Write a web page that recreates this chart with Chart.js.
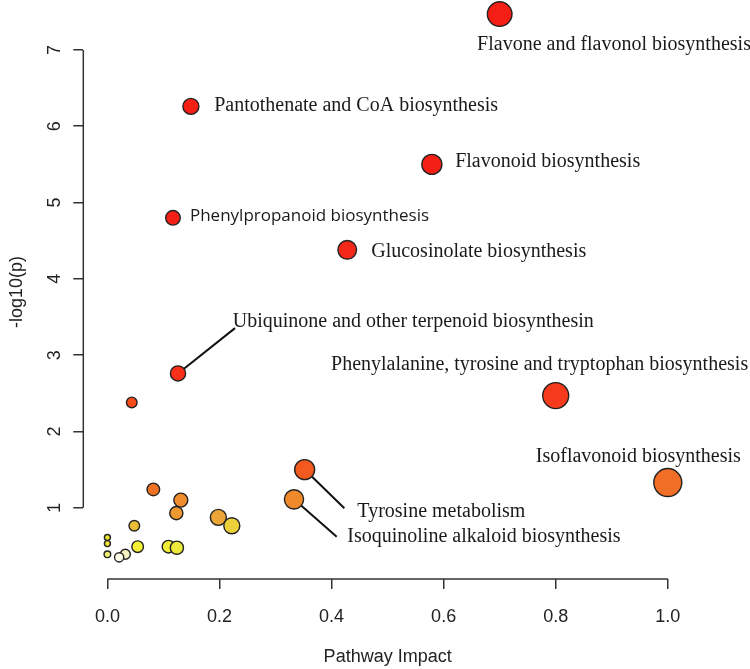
<!DOCTYPE html>
<html lang="en">
<head>
    <meta charset="UTF-8">
    <title>Pathway Impact</title>
    <script src="https://cdn.jsdelivr.net/npm/chart.js"></script>
    <style>
        body { margin: 0; background: #fff; }
        #wrap { width: 750px; height: 669px; }
    </style>
</head>
<body>
    <div id="wrap"><canvas id="pathwayChart" width="750" height="669"></canvas></div>

    <script>
        // data, sorted by -log10(p)
        const pathways = [
            'Flavone and flavonol biosynthesis', 'Pantothenate and CoA biosynthesis', 'Flavonoid biosynthesis',
            'Phenylpropanoid biosynthesis', 'Glucosinolate biosynthesis', 'Ubiquinone and other terpenoid biosynthesin',
            'Phenylalanine, tyrosine and tryptophan biosynthesis', '', 'Tyrosine metabolism', 'Isoflavonoid biosynthesis',
            '', 'Isoquinoline alkaloid biosynthesis', '', '', '', '', '', '', '', '', '', '', '', '', ''
        ];
        const impact = [0.70, 0.149, 0.579, 0.117, 0.428, 0.126, 0.80, 0.0435, 0.352, 1.0,
                        0.082, 0.333, 0.131, 0.123, 0.198, 0.222, 0.048, 0.0, 0.0, 0.054,
                        0.109, 0.124, 0.0, 0.032, 0.021];
        const logP = [7.47, 6.26, 5.50, 4.80, 4.38, 2.76, 2.47, 2.38, 1.50, 1.33,
                      1.24, 1.11, 1.10, 0.93, 0.874, 0.764, 0.764, 0.61, 0.53, 0.49,
                      0.49, 0.476, 0.39, 0.39, 0.35];
        const bubbleSize = [13, 8.7, 10.7, 8, 10, 8.3, 13.7, 6, 10.7, 14.7,
                            7, 10.3, 7.7, 7.3, 8.7, 8.7, 6, 3.7, 3.7, 6.5,
                            7, 7.3, 4, 5.7, 5.3];
        const xTicks = [0, 0.2, 0.4, 0.6, 0.8, 1.0];
        const yTicks = [1, 2, 3, 4, 5, 6, 7];

        // fill colours (heat scale, red = small p)
        const fills = ['#f41e14', '#f52015', '#f52015', '#f52015', '#f42818', '#f7301a', '#f63a1c', '#f54a1a', '#f25a20', '#f06e25',
                       '#ee7022', '#ef8a2c', '#ee8c2e', '#ee9832', '#eba637', '#ecd13a', '#ebbd35', '#f0e432', '#f0e436', '#f4f038',
                       '#f2ee38', '#eeea3c', '#f2f070', '#f5f3c0', '#fafae6'];

        // label placement relative to the point (px): dx, dy, font, leader end
        const labelStyle = {
            0: { dx: -22.6, dy: 31 },
            1: { dx: 23.3, dy: -1 },
            2: { dx: 23.3, dy: -2.3 },
            3: { dx: 17, dy: -2, sans: true },
            4: { dx: 24, dy: 1.7 },
            5: { dx: 54.7, dy: -51.6, lead: [57, -45.3] },
            6: { dx: -224.7, dy: -30.7 },
            8: { dx: 52.7, dy: 42.4, lead: [39.7, 38.7] },
            9: { dx: -132, dy: -26.3 },
            11: { dx: 53.3, dy: 37.7, lead: [42.7, 37.4] }
        };

        const points = impact.map((x, i) => ({ x: x, y: logP[i], r: bubbleSize[i] - 0.7 }));

        function pointPixel(chart, i) {
            return [chart.scales.x.getPixelForValue(impact[i]), chart.scales.y.getPixelForValue(logP[i])];
        }

        const annotate = {
            id: 'annotate',
            beforeDatasetsDraw(chart) {
                const ctx = chart.ctx;
                const xs = chart.scales.x, ys = chart.scales.y;
                ctx.save();
                ctx.strokeStyle = '#333';
                ctx.lineWidth = 1.5;
                // R style axis lines, first to last tick
                ctx.beginPath();
                ctx.moveTo(xs.getPixelForValue(xTicks[0]), chart.chartArea.bottom);
                ctx.lineTo(xs.getPixelForValue(xTicks[xTicks.length - 1]), chart.chartArea.bottom);
                ctx.moveTo(chart.chartArea.left, ys.getPixelForValue(yTicks[0]));
                ctx.lineTo(chart.chartArea.left, ys.getPixelForValue(yTicks[yTicks.length - 1]));
                ctx.stroke();
                // leader lines
                ctx.strokeStyle = '#111';
                ctx.lineWidth = 2;
                Object.keys(labelStyle).forEach(k => {
                    const s = labelStyle[k];
                    if (!s.lead) return;
                    const [px, py] = pointPixel(chart, +k);
                    ctx.beginPath();
                    ctx.moveTo(px, py);
                    ctx.lineTo(px + s.lead[0], py + s.lead[1]);
                    ctx.stroke();
                });
                ctx.restore();
            },
            afterDatasetsDraw(chart) {
                const ctx = chart.ctx;
                ctx.save();
                ctx.fillStyle = '#1a1a1a';
                ctx.textBaseline = 'middle';
                ctx.textAlign = 'left';
                Object.keys(labelStyle).forEach(k => {
                    const s = labelStyle[k];
                    const [px, py] = pointPixel(chart, +k);
                    ctx.font = s.sans ? '17px "Open Sans"' : '20px "Liberation Serif"';
                    ctx.fillText(pathways[k], px + s.dx, py + s.dy);
                });
                ctx.restore();
            }
        };

        const axisFont = { family: '"Liberation Sans", Arial, sans-serif', size: 18 };

        new Chart(document.getElementById('pathwayChart'), {
            type: 'bubble',
            data: {
                datasets: [{
                    data: points,
                    backgroundColor: fills,
                    borderColor: '#222',
                    borderWidth: 1.4,
                    clip: false
                }]
            },
            options: {
                responsive: false,
                animation: false,
                devicePixelRatio: 1,
                layout: { autoPadding: false, padding: { top: 5, right: 58, left: 0, bottom: 0 } },
                plugins: { legend: { display: false }, tooltip: { enabled: false } },
                scales: {
                    x: {
                        type: 'linear',
                        min: -0.043,
                        max: 1.0432,
                        afterBuildTicks: s => { s.ticks = xTicks.map(v => ({ value: v })); },
                        afterFit: s => { s.height = 90; },
                        border: { display: false },
                        grid: { drawOnChartArea: false, drawTicks: true, tickLength: 10, color: '#333', lineWidth: 1.5 },
                        ticks: {
                            color: '#222', font: axisFont, padding: 17, maxRotation: 0,
                            callback: v => v.toFixed(1)
                        },
                        title: { display: true, text: 'Pathway Impact', color: '#222', font: axisFont, padding: { top: 0, bottom: 1 } }
                    },
                    y: {
                        type: 'linear',
                        min: 0.066,
                        max: 7.589,
                        afterBuildTicks: s => { s.ticks = yTicks.map(v => ({ value: v })); },
                        afterFit: s => { s.width = 83.3; s.paddingTop = 0; s.paddingBottom = 0; },
                        border: { display: false },
                        grid: { drawOnChartArea: false, drawTicks: true, tickLength: 10, color: '#333', lineWidth: 1.5 },
                        ticks: {
                            color: '#222', font: axisFont, padding: 13, minRotation: 90, maxRotation: 90,
                            crossAlign: 'center',
                            callback: v => String(v)
                        },
                        title: { display: true, text: '-log10(p)', color: '#222', font: axisFont, padding: { top: 6, bottom: 0 } }
                    }
                }
            },
            plugins: [annotate]
        });
    </script>
</body>
</html>
